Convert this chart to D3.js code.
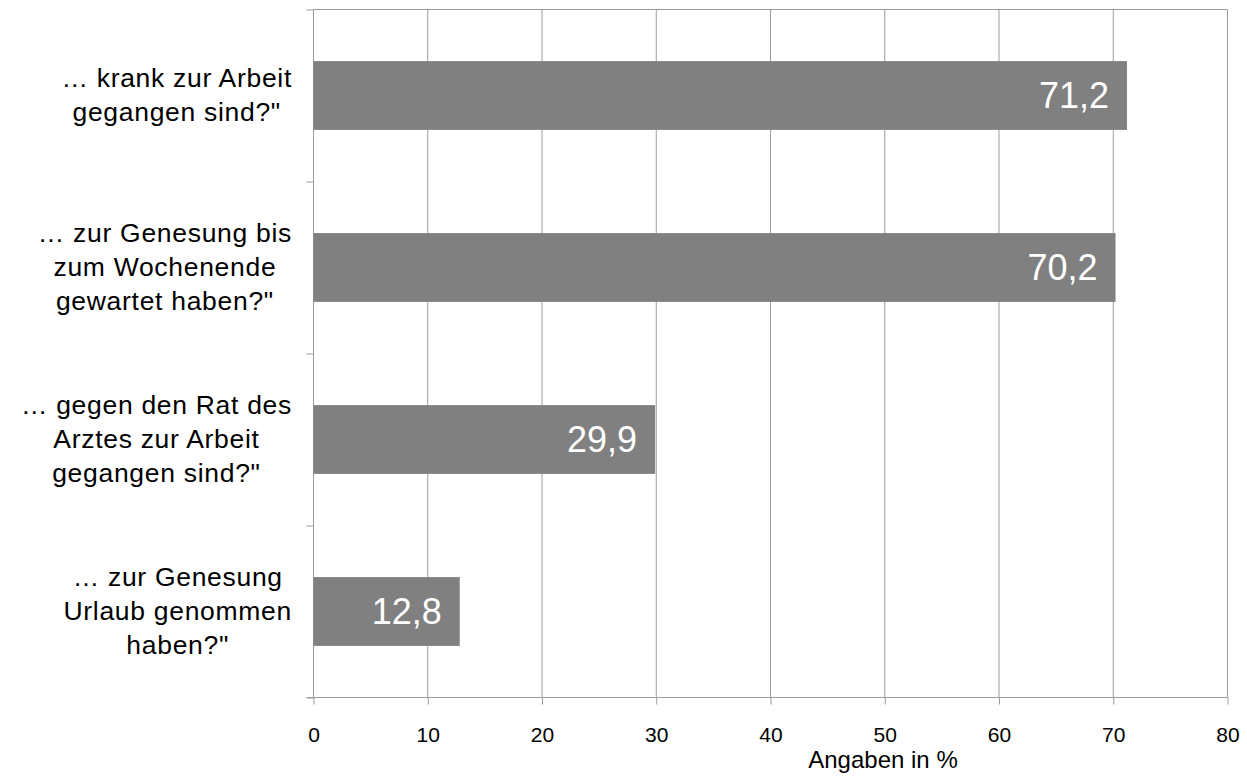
<!DOCTYPE html>
<html>
<head>
<meta charset="utf-8">
<script src="https://cdn.jsdelivr.net/npm/d3@7"></script>
<style>
  html, body { margin: 0; padding: 0; background: #fff; }
  svg { display: block; font-family: "Liberation Sans", Arial, sans-serif; }
</style>
</head>
<body>
<svg id="chart" width="1247" height="776"></svg>
<script>
// ---- data ----
const categories = [
  ["… krank zur Arbeit", "gegangen sind?\""],
  ["… zur Genesung bis", "zum Wochenende", "gewartet haben?\""],
  ["… gegen den Rat des", "Arztes zur Arbeit", "gegangen sind?\""],
  ["… zur Genesung", "Urlaub genommen", "haben?\""]
];
const values = [71.2, 70.2, 29.9, 12.8];
const valueLabels = ["71,2", "70,2", "29,9", "12,8"];
const xTicks = [0, 10, 20, 30, 40, 50, 60, 70, 80];
const xTitle = "Angaben in %";

// ---- layout ----
const plotL = 313.5, plotR = 1227.5, plotT = 9.5, plotB = 697.5;
const gridColor = "#9c9c9c";
const barColor = "#808080";

const svg = d3.select("#chart");

const x = d3.scaleLinear().domain([0, 80]).range([plotL, plotR]);
const y = d3.scaleBand().domain(d3.range(categories.length))
  .range([plotT, plotB]).paddingInner(0.6).paddingOuter(0.3);
const yb = d3.scaleLinear().domain([0, categories.length]).range([plotT, plotB]);

// vertical gridlines
svg.append("g").selectAll("line").data(xTicks).join("line")
  .attr("x1", d => x(d)).attr("x2", d => x(d))
  .attr("y1", plotT).attr("y2", plotB)
  .attr("stroke", gridColor).attr("stroke-width", 1);

// top border
svg.append("line")
  .attr("x1", plotL).attr("x2", plotR).attr("y1", plotT).attr("y2", plotT)
  .attr("stroke", gridColor);

// bars
svg.append("g").selectAll("rect").data(values).join("rect")
  .attr("x", x(0))
  .attr("y", (d, i) => y(i))
  .attr("width", d => x(d) - x(0))
  .attr("height", y.bandwidth())
  .attr("fill", barColor);

// value labels
svg.append("g").selectAll("text").data(values).join("text")
  .attr("x", d => x(d) - 18)
  .attr("y", (d, i) => y(i) + y.bandwidth() / 2 + 12)
  .attr("text-anchor", "end")
  .attr("fill", "#fff")
  .attr("font-size", 36)
  .text((d, i) => valueLabels[i]);

// x axis
const xAxis = svg.append("g")
  .attr("transform", `translate(0,${plotB})`)
  .call(d3.axisBottom(x).tickValues(xTicks).tickSize(7).tickPadding(23).tickFormat(d3.format("d")));
xAxis.select(".domain").attr("stroke", gridColor).attr("d", `M${plotL - 7},0H${plotR}`);
xAxis.selectAll(".tick line").attr("stroke", gridColor);
xAxis.selectAll(".tick text").attr("font-size", 21).attr("fill", "#000")
  .attr("font-family", "'Liberation Sans', Arial, sans-serif");

// y axis (band boundaries)
const yAxis = svg.append("g")
  .attr("transform", `translate(${plotL},0)`)
  .call(d3.axisLeft(yb).tickValues(d3.range(categories.length + 1)).tickSize(7).tickFormat(""));
yAxis.select(".domain").remove();
yAxis.selectAll(".tick line").attr("stroke", gridColor);

// category labels: block right-aligned, lines centered
const labelRight = 292;
const lineH = 34;
const catG = svg.append("g");
categories.forEach((lines, i) => {
  const cy = y(i) + y.bandwidth() / 2;
  const t = catG.append("text")
    .attr("font-size", 26.5)
    .attr("letter-spacing", 0.7)
    .attr("fill", "#000")
    .attr("text-anchor", "middle");
  const spans = lines.map((ln, k) => t.append("tspan")
    .attr("y", cy + 8 + (k - (lines.length - 1) / 2) * lineH)
    .text(ln));
  const maxW = d3.max(spans, s => s.node().getComputedTextLength());
  spans.forEach(s => s.attr("x", labelRight - maxW / 2));
});

// x title
svg.append("text")
  .attr("x", 883)
  .attr("y", 768)
  .attr("text-anchor", "middle")
  .attr("font-size", 24)
  .attr("fill", "#000")
  .text(xTitle);
</script>
</body>
</html>
